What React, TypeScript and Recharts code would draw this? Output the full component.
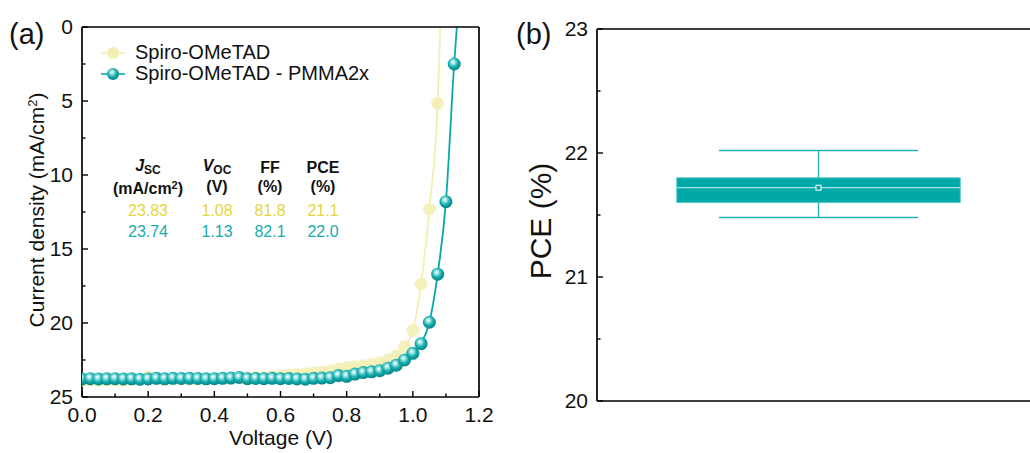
import React from 'react';
import {
  ComposedChart, Line, XAxis, YAxis, Legend, ReferenceArea, ReferenceLine, Scatter,
} from 'recharts';

const FONT = '"Liberation Sans", Arial, Helvetica, sans-serif';
const TEAL = '#0aa7a8';
const PALE = '#f3efb3';
const YELLOW_TXT = '#e6d63e';
const TEAL_TXT = '#17abab';

// J-V sweep, 25 mV steps
const voltage = [
  0, 0.025, 0.05, 0.075, 0.1, 0.125, 0.15, 0.175, 0.2, 0.225, 0.25, 0.275, 0.3, 0.325, 0.35, 0.375,
  0.4, 0.425, 0.45, 0.475, 0.5, 0.525, 0.55, 0.575, 0.6, 0.625, 0.65, 0.675, 0.7, 0.725, 0.75, 0.775,
  0.8, 0.825, 0.85, 0.875, 0.9, 0.925, 0.95, 0.975, 1.0, 1.025, 1.05, 1.075, 1.1, 1.125,
];
const spiroJ = [
  23.88, 23.86, 23.88, 23.85, 23.87, 23.86, 23.84, 23.8, 23.62, 23.78, 23.82, 23.8, 23.78, 23.8, 23.79, 23.78,
  23.76, 23.75, 23.74, 23.72, 23.7, 23.68, 23.66, 23.62, 23.58, 23.5, 23.48, 23.42, 23.38, 23.3, 23.22, 23.1,
  23.0, 22.95, 22.88, 22.8, 22.68, 22.5, 22.2, 21.6, 20.5, 17.36, 12.3, 5.16,
];
const pmmaJ = [
  23.78, 23.76, 23.78, 23.77, 23.76, 23.78, 23.77, 23.8, 23.78, 23.74, 23.77, 23.74, 23.75, 23.74, 23.75, 23.77,
  23.76, 23.74, 23.72, 23.68, 23.76, 23.75, 23.76, 23.74, 23.76, 23.75, 23.78, 23.8, 23.74, 23.72, 23.7, 23.55,
  23.6, 23.45, 23.35, 23.3, 23.22, 23.05, 22.85, 22.5, 22.05, 21.4, 19.95, 16.7, 11.8, 2.5,
];
// where each fitted curve crosses J = 0 (no marker there)
const spiroVoc = [1.083, 0];
const pmmaVoc = [1.133, 0];

const xTicks = [0, 0.1, 0.2, 0.3, 0.4, 0.5, 0.6, 0.7, 0.8, 0.9, 1.0, 1.1, 1.2];
const jTicks = [0, 2.5, 5, 7.5, 10, 12.5, 15, 17.5, 20, 22.5, 25];
const pceTicks = [20, 20.5, 21, 21.5, 22, 22.5, 23];

const legendNames = ['Spiro-OMeTAD', 'Spiro-OMeTAD - PMMA2x'];
const spiroRow = ['23.83', '1.08', '81.8', '21.1'];
const pmmaRow = ['23.74', '1.13', '82.1', '22.0'];

// PCE box: min, q1, median, q3, max
const pceStats = [21.48, 21.6, 21.72, 21.8, 22.02];
const pceMean = 21.72;

const spiroData = [
  ...spiroJ.map((j, i) => ({ v: voltage[i], j })),
  { v: spiroVoc[0], j: spiroVoc[1], end: true },
];
const pmmaData = [
  ...pmmaJ.map((j, i) => ({ v: voltage[i], j })),
  { v: pmmaVoc[0], j: pmmaVoc[1], end: true },
];

type Side = 'bottom' | 'top' | 'left' | 'right';

function InTick(props: any) {
  const { x, y, payload, side, isMajor, fmt } = props;
  const v = payload.value;
  const major = isMajor(v);
  const L = major ? 6 : 3.5;
  const s: Side = side;
  let line;
  if (s === 'bottom') line = <line x1={x} x2={x} y1={y} y2={y - L} />;
  else if (s === 'top') line = <line x1={x} x2={x} y1={y} y2={y + L} />;
  else if (s === 'left') line = <line x1={x} x2={x + L} y1={y} y2={y} />;
  else line = <line x1={x} x2={x - L} y1={y} y2={y} />;
  let label = null;
  if (fmt && major) {
    if (s === 'bottom') {
      label = <text x={x} y={y + 25} textAnchor="middle" fontSize={21} fontFamily={FONT} fill="#111">{fmt(v)}</text>;
    } else {
      label = <text x={x - 9} y={y + 7} textAnchor="end" fontSize={21} fontFamily={FONT} fill="#111">{fmt(v)}</text>;
    }
  }
  return (
    <g>
      <g stroke="#000" strokeWidth={1.4}>{line}</g>
      {label}
    </g>
  );
}

const axisLine = { stroke: '#000', strokeWidth: 1.7 };

const PaleDot = (p: any) =>
  p.payload?.end ? <g key={`pe-${p.index}`} /> : (
    <circle key={`p-${p.index}`} cx={p.cx} cy={p.cy} r={6.4} fill={PALE} fillOpacity={0.85} />
  );

const SphereDot = (p: any) =>
  p.payload?.end ? <g key={`se-${p.index}`} /> : (
    <circle key={`s-${p.index}`} cx={p.cx} cy={p.cy} r={6.5} fill="url(#sphere)" />
  );

function LegendBox() {
  return (
    <div style={{ fontFamily: FONT, fontSize: 20, color: '#111' }}>
      {legendNames.map((name, i) => (
        <div key={name} style={{ display: 'flex', alignItems: 'center', height: 21 }}>
          <svg width={24} height={14} style={{ marginRight: 10 }}>
            <line x1={0} x2={24} y1={7} y2={7} stroke={i === 0 ? PALE : TEAL} strokeWidth={1.6} />
            <circle cx={12} cy={7} r={6} fill={i === 0 ? PALE : 'url(#sphereLeg)'} />
            <defs>
              <radialGradient id="sphereLeg" cx="0.45" cy="0.4" r="0.6" fx="0.4" fy="0.35">
                <stop offset="0%" stopColor="#ffffff" />
                <stop offset="25%" stopColor="#9fe3e3" />
                <stop offset="60%" stopColor="#14aeae" />
                <stop offset="100%" stopColor="#058283" />
              </radialGradient>
            </defs>
          </svg>
          <span>{name}</span>
        </div>
      ))}
    </div>
  );
}

const cell = (x: number, y: number, content: React.ReactNode, style: React.CSSProperties = {}) => (
  <div
    style={{
      position: 'absolute', left: x, top: y, transform: 'translate(-50%, -50%)',
      whiteSpace: 'nowrap', fontFamily: FONT, fontSize: 16, lineHeight: '18px', ...style,
    }}
  >
    {content}
  </div>
);

const colX = [148, 217, 270, 323];

function ParamTable() {
  const hdr = { fontWeight: 700, color: '#111' };
  return (
    <>
      {cell(colX[0], 168, <span><i>J</i><sub style={{ fontSize: 12, verticalAlign: '-3px' }}>SC</sub></span>, hdr)}
      {cell(colX[1], 168, <span><i>V</i><sub style={{ fontSize: 12, verticalAlign: '-3px' }}>OC</sub></span>, hdr)}
      {cell(colX[2], 168, 'FF', hdr)}
      {cell(colX[3], 168, 'PCE', hdr)}
      {cell(colX[0], 187, <span>(mA/cm<sup style={{ fontSize: 11, verticalAlign: '5px' }}>2</sup>)</span>, hdr)}
      {cell(colX[1], 187, '(V)', hdr)}
      {cell(colX[2], 187, '(%)', hdr)}
      {cell(colX[3], 187, '(%)', hdr)}
      {spiroRow.map((s, i) => <React.Fragment key={`a${i}`}>{cell(colX[i], 211, s, { color: YELLOW_TXT })}</React.Fragment>)}
      {pmmaRow.map((s, i) => <React.Fragment key={`b${i}`}>{cell(colX[i], 232, s, { color: TEAL_TXT })}</React.Fragment>)}
    </>
  );
}

function PanelA() {
  return (
    <ComposedChart width={500} height={453} margin={{ top: 26, right: 20, bottom: 55, left: 81 }}>
      <defs>
        <radialGradient id="sphere" cx="0.45" cy="0.4" r="0.6" fx="0.4" fy="0.35">
          <stop offset="0%" stopColor="#ffffff" />
          <stop offset="25%" stopColor="#9fe3e3" />
          <stop offset="60%" stopColor="#14aeae" />
          <stop offset="100%" stopColor="#058283" />
        </radialGradient>
      </defs>
      <XAxis
        xAxisId="b" type="number" dataKey="v" domain={[0, 1.2]} ticks={xTicks} interval={0}
        height={1} tickSize={0} tickMargin={0} tickLine={false} axisLine={axisLine} allowDataOverflow
        tick={(p: any) => <InTick {...p} side="bottom" isMajor={(v: number) => Math.round(v * 10) % 2 === 0} fmt={(v: number) => v.toFixed(1)} />}
      />
      <XAxis
        xAxisId="t" orientation="top" type="number" dataKey="v" domain={[0, 1.2]} ticks={xTicks} interval={0}
        height={1} tickSize={0} tickMargin={0} tickLine={false} axisLine={axisLine}
        tick={(p: any) => <InTick {...p} side="top" isMajor={(v: number) => Math.round(v * 10) % 2 === 0} />}
      />
      <YAxis
        yAxisId="l" type="number" dataKey="j" domain={[0, 25]} reversed ticks={jTicks} interval={0}
        width={1} tickSize={0} tickMargin={0} tickLine={false} axisLine={axisLine} allowDataOverflow
        tick={(p: any) => <InTick {...p} side="left" isMajor={(v: number) => v % 5 === 0} fmt={(v: number) => String(v)} />}
      />
      <YAxis
        yAxisId="r" orientation="right" type="number" domain={[0, 25]} reversed ticks={jTicks} interval={0}
        width={1} tickSize={0} tickMargin={0} tickLine={false} axisLine={axisLine}
        tick={(p: any) => <InTick {...p} side="right" isMajor={(v: number) => v % 5 === 0} />}
      />
      <Line
        xAxisId="b" yAxisId="l" data={spiroData} dataKey="j" type="monotone" stroke={PALE} strokeWidth={1.8}
        dot={PaleDot} activeDot={false} isAnimationActive={false}
      />
      <Line
        xAxisId="b" yAxisId="l" data={pmmaData} dataKey="j" type="monotone" stroke={TEAL} strokeWidth={1.8}
        dot={SphereDot} activeDot={false} isAnimationActive={false}
      />
      <Legend
        layout="vertical" align="center" verticalAlign="middle" content={() => <LegendBox />}
        wrapperStyle={{ left: 101, top: 42, width: 'auto', height: 'auto' }}
      />
    </ComposedChart>
  );
}

function PanelB() {
  const [min, q1, med, q3, max] = pceStats;
  const boxX = [0.18, 0.82];
  const capX = [0.275, 0.725];
  const mid = 0.5;
  return (
    <ComposedChart width={560} height={453} margin={{ top: 28, right: 20, bottom: 51, left: 96 }}>
      <XAxis
        type="number" dataKey="x" domain={[0, 1]} height={1} tick={false} tickLine={false} axisLine={axisLine}
      />
      <XAxis
        xAxisId="t" orientation="top" type="number" dataKey="x" domain={[0, 1]} height={1}
        tick={false} tickLine={false} axisLine={axisLine}
      />
      <YAxis
        type="number" dataKey="y" domain={[20, 23]} ticks={pceTicks} interval={0}
        width={1} tickSize={0} tickMargin={0} tickLine={false} axisLine={axisLine}
        tick={(p: any) => <InTick {...p} side="left" isMajor={(v: number) => Number.isInteger(v)} fmt={(v: number) => String(v)} />}
      />
      <ReferenceArea x1={boxX[0]} x2={boxX[1]} y1={q1} y2={q3} fill="#00a8a8" fillOpacity={1} stroke="#5cc8c8" strokeWidth={1} />
      <ReferenceLine segment={[{ x: boxX[0], y: med }, { x: boxX[1], y: med }]} stroke="#a6e2e2" strokeWidth={1.2} />
      <ReferenceLine segment={[{ x: mid, y: q3 }, { x: mid, y: max }]} stroke="#22b2b2" strokeWidth={1.3} />
      <ReferenceLine segment={[{ x: mid, y: min }, { x: mid, y: q1 }]} stroke="#22b2b2" strokeWidth={1.3} />
      <ReferenceLine segment={[{ x: capX[0], y: max }, { x: capX[1], y: max }]} stroke="#22b2b2" strokeWidth={1.4} />
      <ReferenceLine segment={[{ x: capX[0], y: min }, { x: capX[1], y: min }]} stroke="#22b2b2" strokeWidth={1.4} />
      <Scatter
        data={[{ x: mid, y: pceMean }]} isAnimationActive={false}
        shape={(p: any) => <rect x={p.cx - 2.5} y={p.cy - 2.5} width={5} height={5} fill={TEAL} stroke="#fff" strokeWidth={1} />}
      />
    </ComposedChart>
  );
}

export default function App() {
  return (
    <div style={{ position: 'relative', width: 1030, height: 453, overflow: 'hidden', background: '#fff', fontFamily: FONT }}>
      <style>{'html,body{margin:0;padding:0;overflow:hidden;}'}</style>
      <div style={{ position: 'absolute', left: 0, top: 0 }}>
        <PanelA />
      </div>
      <div style={{ position: 'absolute', left: 500, top: 0 }}>
        <PanelB />
      </div>
      <ParamTable />
      <div style={{ position: 'absolute', left: 9, top: 17, fontSize: 29, lineHeight: '34px', fontFamily: FONT, color: '#111' }}>(a)</div>
      <div style={{ position: 'absolute', left: 516, top: 17, fontSize: 29, lineHeight: '34px', fontFamily: FONT, color: '#111' }}>(b)</div>
      <div style={{ position: 'absolute', left: 281, top: 438, transform: 'translate(-50%, -50%)', fontSize: 21, whiteSpace: 'nowrap', color: '#111' }}>
        Voltage (V)
      </div>
      <div style={{ position: 'absolute', left: 37, top: 210, transform: 'translate(-50%, -50%) rotate(-90deg)', fontSize: 21, whiteSpace: 'nowrap', color: '#111' }}>
        Current density (mA/cm<sup style={{ fontSize: 13, verticalAlign: '7px', lineHeight: 0 }}>2</sup>)
      </div>
      <div style={{ position: 'absolute', left: 541, top: 221, transform: 'translate(-50%, -50%) rotate(-90deg)', fontSize: 30, whiteSpace: 'nowrap', color: '#111' }}>
        PCE (%)
      </div>
    </div>
  );
}
